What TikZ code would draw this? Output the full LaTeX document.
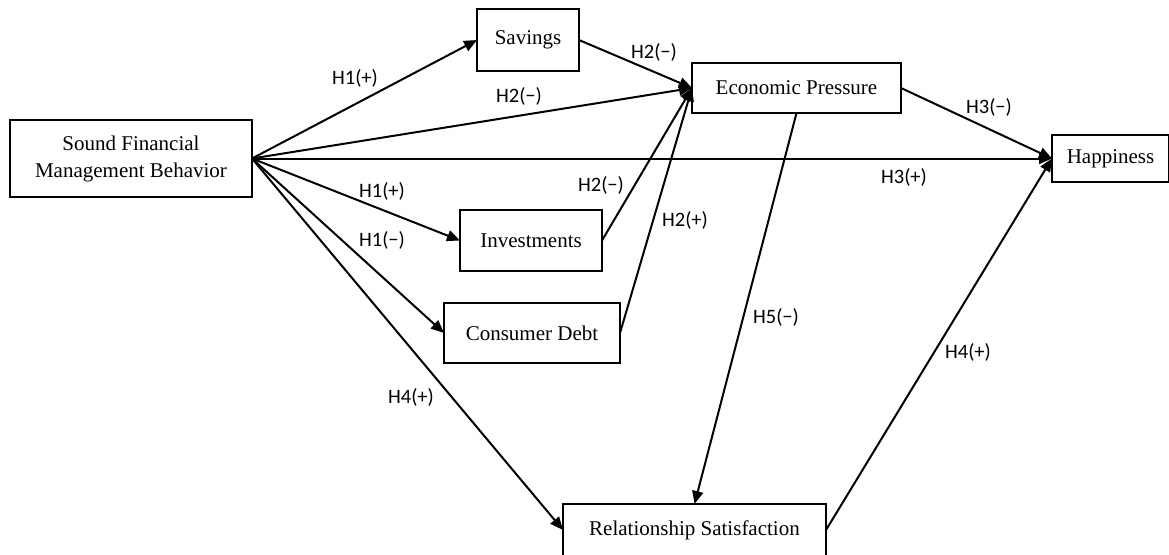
\documentclass[tikz,border=0pt]{standalone}
\usepackage{fontspec}
\setmainfont{Liberation Serif}
\newfontfamily\lblfont{Carlito}
\usetikzlibrary{arrows.meta}
\begin{document}
\begin{tikzpicture}[x=1pt,y=-1pt,
  boxnode/.style={draw,line width=1.4pt,inner sep=0pt,outer sep=0pt,align=center,
    font=\fontsize{21}{27}\selectfont},
  lbl/.style={inner sep=0pt,font=\lblfont\fontsize{20.5}{24}\selectfont},
  conn/.style={line width=2pt,-{Triangle[length=13pt,width=11pt]}},
  plain/.style={line width=2pt}]
\useasboundingbox (0,0) rectangle (1169,554);
\node[boxnode,minimum width=242pt,minimum height=77pt] (sfmb) at (131,158.5) {Sound Financial\\Management Behavior};
\node[boxnode,minimum width=102pt,minimum height=62pt] (sav) at (528,40) {Savings};
\node[boxnode,minimum width=209pt,minimum height=50pt] (ep) at (796.5,88) {Economic Pressure};
\node[boxnode,minimum width=117pt,minimum height=47pt] (hap) at (1110.5,158.5) {Happiness};
\node[boxnode,minimum width=142pt,minimum height=61pt] (inv) at (531,240.5) {Investments};
\node[boxnode,minimum width=176pt,minimum height=60pt] (cd) at (532,333) {Consumer Debt};
\node[boxnode,minimum width=263pt,minimum height=52pt] (rs) at (694.5,530) {Relationship Satisfaction};

\draw[conn] (sfmb.east) -- (sav.west);
\draw[conn] (sfmb.east) -- (ep.west);
\draw[conn] (sfmb.east) -- (hap.west);
\draw[conn] (sfmb.east) -- (inv.west);
\draw[conn] (sfmb.east) -- (cd.west);
\draw[conn] (sfmb.east) -- (rs.west);
\draw[conn] (sav.east) -- (ep.west);
\draw[conn] (inv.east) -- (ep.west);
\draw[conn] (cd.east) -- (ep.west);
\draw[conn] (ep.east) -- (hap.west);
\draw[conn] (ep.south) -- (rs.north);
\draw[conn] (rs.east) -- (hap.west);

\node[lbl] (l1) at (355,78) {H1(+)};
\node[lbl] (l2) at (519,96) {H2(−)};
\node[lbl] (l3) at (654,52) {H2(−)};
\node[lbl] (l4) at (989,107) {H3(−)};
\node[lbl] (l5) at (904,177) {H3(+)};
\node[lbl] (l6) at (382,191) {H1(+)};
\node[lbl] (l7) at (382,240) {H1(−)};
\node[lbl] (l8) at (601,185) {H2(−)};
\node[lbl] (l9) at (685,220) {H2(+)};
\node[lbl] (l10) at (411,397) {H4(+)};
\node[lbl] (l11) at (776,317) {H5(−)};
\node[lbl] (l12) at (968,352) {H4(+)};
\end{tikzpicture}
\end{document}
